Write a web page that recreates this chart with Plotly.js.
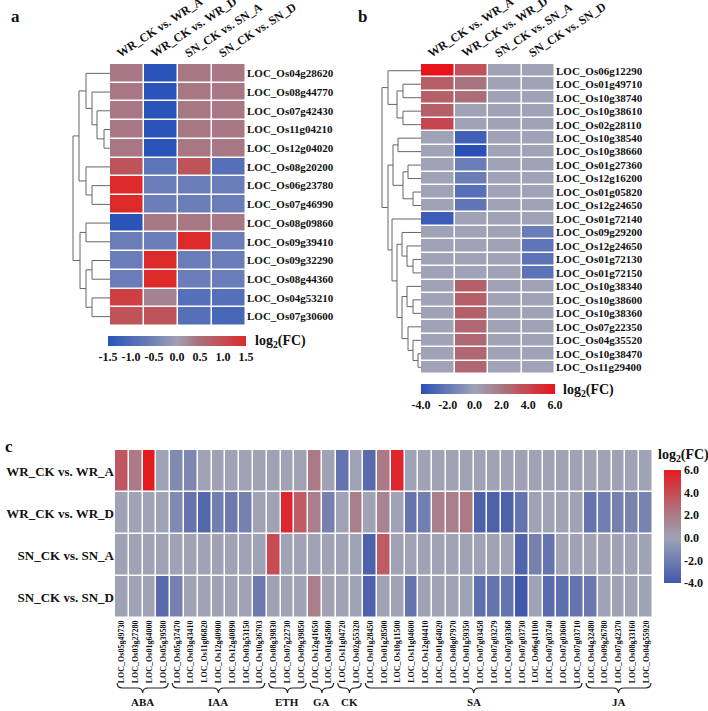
<!DOCTYPE html>
<html>
<head>
<meta charset="utf-8">
<script src="https://cdn.plot.ly/plotly-3.0.1.min.js"></script>
<style>
  html, body { margin: 0; padding: 0; background: #fff; }
  #chart { width: 708px; height: 711px; }
</style>
</head>
<body>
<div id="chart"></div>
<script>
// comparisons (shared by all panels)
const comparisons = ['WR_CK vs. WR_A', 'WR_CK vs. WR_D', 'SN_CK vs. SN_A', 'SN_CK vs. SN_D'];

// Panel a
const aGenes = ['LOC_Os04g28620', 'LOC_Os08g44770', 'LOC_Os07g42430', 'LOC_Os11g04210', 'LOC_Os12g04020',
  'LOC_Os08g20200', 'LOC_Os06g23780', 'LOC_Os07g46990', 'LOC_Os08g09860', 'LOC_Os09g39410',
  'LOC_Os09g32290', 'LOC_Os08g44360', 'LOC_Os04g53210', 'LOC_Os07g30600'];
const aValues = [
  [0.4, -1.5, 0.4, 0.4],
  [0.4, -1.5, 0.4, 0.4],
  [0.4, -1.5, 0.4, 0.4],
  [0.4, -1.5, 0.4, 0.4],
  [0.4, -1.5, 0.4, 0.4],
  [0.9, -0.8, 0.9, -0.9],
  [1.5, -0.6, -0.6, -0.6],
  [1.5, -0.6, -0.6, -0.6],
  [-1.5, 0.4, 0.4, 0.4],
  [-0.6, -0.6, 1.5, -0.6],
  [-0.6, 1.5, -0.6, -0.6],
  [-0.6, 1.5, -0.6, -0.6],
  [1.2, 0.3, -0.9, -0.9],
  [0.9, 0.9, -0.9, -1.1]
];
// tree: [left, right, merge height]; leaves are row indices
const aTree = [[[0, [1, [2, [3, 4, 6], 13], 18], 24], [5, [6, 7, 18], 24], 31],
               [[8, 9, 24], [[10, 11, 18], [12, 13, 18], 24], 30], 37];
const aTicks = [-1.5, -1.0, -0.5, 0.0, 0.5, 1.0, 1.5];

// Panel b
const bGenes = ['LOC_Os06g12290', 'LOC_Os01g49710', 'LOC_Os10g38740', 'LOC_Os10g38610', 'LOC_Os02g28110',
  'LOC_Os10g38540', 'LOC_Os10g38660', 'LOC_Os01g27360', 'LOC_Os12g16200', 'LOC_Os01g05820',
  'LOC_Os12g24650', 'LOC_Os01g72140', 'LOC_Os09g29200', 'LOC_Os12g24650', 'LOC_Os01g72130',
  'LOC_Os01g72150', 'LOC_Os10g38340', 'LOC_Os10g38600', 'LOC_Os10g38360', 'LOC_Os07g22350',
  'LOC_Os04g35520', 'LOC_Os10g38470', 'LOC_Os11g29400'];
const bValues = [
  [6.0, 3.6, 0, 0],
  [3.0, 2.2, 0, 0],
  [3.0, 2.4, 0, 0],
  [3.0, 0, 0, 0],
  [4.0, 0, 0, 0],
  [0, -3.2, 0, 0],
  [0, -4.0, 0, 0],
  [0, -1.8, 0, 0],
  [0, -1.8, 0, 0],
  [0, -2.5, 0, 0],
  [0, -2.2, 0, 0],
  [-3.4, 0, 0, 0],
  [0, 0, 0, -1.8],
  [0, 0, 0, -2.2],
  [0, 0, 0, -2.3],
  [0, 0, 0, -2.3],
  [0, 3.0, 0, 0],
  [0, 3.0, 0, 0],
  [0, 3.0, 0, 0],
  [0, 2.7, 0, 0],
  [0, 2.7, 0, 0],
  [0, 2.7, 0, 0],
  [0, 2.7, 0, 0]
];
const bTree = [
  [0, [[1, 2, 18], [3, 4, 18], 24], 33],
  [[[5, 6, 23], [[7, 8, 13], [9, 10, 8], 18], 28],
   [11, [[12, [13, [14, 15, 8], 14], 19], [[16, [17, 18, 8], 14], [19, [20, [21, 22, 3], 8], 13], 19], 24], 29], 33],
  39];
const bTicks = [-4, -2, 0, 2, 4, 6];

// Panel c
const cGenes = ['LOC_Os05g49730', 'LOC_Os03g27280', 'LOC_Os01g64000', 'LOC_Os05g39580',
  'LOC_Os05g37470', 'LOC_Os03g43410', 'LOC_Os11g06820', 'LOC_Os12g40900', 'LOC_Os12g40890', 'LOC_Os03g53150', 'LOC_Os10g36703',
  'LOC_Os08g39830', 'LOC_Os07g22730', 'LOC_Os09g39850',
  'LOC_Os12g41650', 'LOC_Os01g45860',
  'LOC_Os11g04720', 'LOC_Os02g55320',
  'LOC_Os01g28450', 'LOC_Os01g28500', 'LOC_Os10g11500', 'LOC_Os11g04600', 'LOC_Os12g04410', 'LOC_Os01g64020',
  'LOC_Os08g07970', 'LOC_Os01g59350', 'LOC_Os07g03458', 'LOC_Os07g03279', 'LOC_Os07g03368', 'LOC_Os07g03730',
  'LOC_Os06g41100', 'LOC_Os07g03740', 'LOC_Os07g03600', 'LOC_Os07g03710',
  'LOC_Os04g32480', 'LOC_Os09g26780', 'LOC_Os07g42370', 'LOC_Os08g33160', 'LOC_Os04g55920'];
const cGroups = ['ABA', 'IAA', 'ETH', 'GA', 'CK', 'SA', 'JA'];
const cGroupSizes = [4, 7, 3, 2, 2, 16, 5];
// one row per comparison, one value per gene
const cWRA = [3.5, 2.0, 6.0, 0, -1.3, -1.5, 0, 0, 0, 0, 0, 0, 0, 0, 2.0, 0, -2.5, 0, -3.0, 2.0,
  5.5, 0, 0, 0, 0, 0, 0, 0, 0, 0, 0, 0, 0, 0, 0, 0, 0, 0, 0];
const cWRD = [0, 0, 0, 0, -1.3, -2.5, -3.2, -2.0, -2.2, -1.8, 0, 0, 5.5, 3.3, 1.8, -1.8, 0, 1.8, 0, 1.5,
  0, -2.5, -2.0, 1.8, 1.8, 2.0, -3.5, -3.5, -3.5, -2.5, 0, 0, 0, 0, -2.5, -2.0, -1.8, -1.7, -1.7];
const cSNA = [0, 0, 0, 0, 0, 0, 0, 0, 0, 0, 0, 4.0, 0, 0, 0, 0, 0, 0, -3.5, 3.3,
  0, 0, 0, 0, 0, 0, 0, 0, 0, -3.3, -1.8, -2.5, 0, 0, 0, 0, 0, 0, 0];
const cSND = [0, 0, 0, -3.0, -1.8, 0, 0, 0, 0, 0, -2.2, 0, 0, 0, 1.8, 0, 0, 0, -3.5, 0,
  0, -2.5, 0, 0, 0, 0, -2.8, -2.5, -2.5, -4.0, 0, -3.0, -2.8, -2.5, -2.3, 0, 0, 0, 0];
const cTicks = [-4, -2, 0, 2, 4, 6];

const W = 708, H = 711;
const serif = 'Liberation Serif, Times New Roman, serif';
const px = v => v / W;
const py = v => 1 - v / H;
const idx = n => Array.from({length: n}, (_, i) => i);
const fmt = v => v.toFixed(1);

function dendro(tree, xa, ya) {
  const xs = [], ys = [];
  function walk(n) {
    if (typeof n === 'number') return {y: n, h: 0};
    const l = walk(n[0]), r = walk(n[1]), h = n[2];
    xs.push(l.h, h, h, r.h, null);
    ys.push(l.y, l.y, r.y, r.y, null);
    return {y: (l.y + r.y) / 2, h: h};
  }
  walk(tree);
  return {type: 'scatter', mode: 'lines', x: xs, y: ys, xaxis: xa, yaxis: ya,
    line: {color: '#666', width: 1}, hoverinfo: 'skip', showlegend: false};
}

const hidden = {showgrid: false, zeroline: false, showticklabels: false, ticks: '', showline: false};
const tickFont = (s) => ({family: serif, size: s, color: '#111', weight: 'bold'});

const data = [
  {
    type: 'heatmap', z: aValues, x: idx(4), y: idx(aGenes.length), xaxis: 'x', yaxis: 'y',
    zmin: -1.5, zmax: 1.5, xgap: 1.5, ygap: 1.5,
    colorscale: [[0, '#2b54b8'], [0.3, '#6a7db8'], [0.5, '#a0a0b4'], [0.65, '#a8737e'], [1, '#dc2a2a']],
    colorbar: {orientation: 'h', x: px(177), xanchor: 'center', y: py(336), yanchor: 'top',
      len: px(138), thickness: 10, xpad: 0, ypad: 0, outlinewidth: 0, ticks: '',
      tickvals: aTicks, ticktext: aTicks.map(fmt), tickfont: tickFont(12)}
  },
  dendro(aTree, 'x2', 'y'),
  {
    type: 'heatmap', z: bValues, x: idx(4), y: idx(bGenes.length), xaxis: 'x3', yaxis: 'y3',
    zmin: -4, zmax: 6, xgap: 1.5, ygap: 1.5,
    colorscale: [[0, '#2a50b8'], [0.4, '#a0a2b6'], [0.62, '#a8737e'], [1, '#e8141a']],
    colorbar: {orientation: 'h', x: px(488), xanchor: 'center', y: py(384), yanchor: 'top',
      len: px(134), thickness: 10, xpad: 0, ypad: 0, outlinewidth: 0, ticks: '',
      tickvals: bTicks, ticktext: bTicks.map(fmt), tickfont: tickFont(12)}
  },
  dendro(bTree, 'x4', 'y3'),
  {
    type: 'heatmap', z: [cWRA, cWRD, cSNA, cSND], x: idx(cGenes.length), y: idx(4), xaxis: 'x5', yaxis: 'y5',
    zmin: -4, zmax: 6, xgap: 1.5, ygap: 1.5,
    colorscale: [[0, '#4258aa'], [0.4, '#a0a3b5'], [0.6, '#ab7a86'], [1, '#e41b1f']],
    colorbar: {x: px(664), xanchor: 'left', y: py(470), yanchor: 'top',
      len: 113 / H, thickness: 17, xpad: 0, ypad: 0, outlinewidth: 0, ticks: '',
      tickvals: cTicks, ticktext: cTicks.map(fmt), tickfont: tickFont(12)}
  }
];

// brace shapes and group labels for panel c
const shapes = [];
const annotations = [];
let start = 0;
cGroups.forEach((g, i) => {
  const s = start, e = start + cGroupSizes[i] - 1;
  start += cGroupSizes[i];
  const x0 = s - 0.35, x1 = e + 0.35, mid = (s + e) / 2, k = Math.min(0.4, (x1 - x0) / 4);
  const y0 = py(683), y1 = py(688), y2 = py(693);
  shapes.push({type: 'path', xref: 'x5', yref: 'paper', line: {color: '#222', width: 1.2},
    path: `M ${x0},${y0} Q ${x0},${y1} ${x0 + k},${y1} L ${mid - k},${y1} Q ${mid},${y1} ${mid},${y2} ` +
          `Q ${mid},${y1} ${mid + k},${y1} L ${x1 - k},${y1} Q ${x1},${y1} ${x1},${y0}`});
  annotations.push({xref: 'x5', yref: 'paper', x: mid, y: py(702), text: g, showarrow: false,
    font: tickFont(11), xanchor: 'center', yanchor: 'middle'});
});

// rotated column headers for panels a and b
comparisons.forEach((c, i) => {
  annotations.push({xref: 'x', yref: 'paper', x: i - 0.45, y: py(63), text: c, showarrow: false,
    textangle: -33, xanchor: 'left', yanchor: 'bottom', font: tickFont(12)});
  annotations.push({xref: 'x3', yref: 'paper', x: i - 0.45, y: py(63), text: c, showarrow: false,
    textangle: -33, xanchor: 'left', yanchor: 'bottom', font: tickFont(12)});
});

// panel letters and colorbar titles
[['a', 15, 17], ['b', 362, 17], ['c', 9, 446]].forEach(([t, x, y]) => {
  annotations.push({xref: 'paper', yref: 'paper', x: px(x), y: py(y), text: t, showarrow: false,
    xanchor: 'center', yanchor: 'middle', font: {family: serif, size: 17, weight: 'bold', color: '#111'}});
});
[[253, 341, 'left'], [561, 390, 'left'], [683, 455, 'center']].forEach(([x, y, anc]) => {
  annotations.push({xref: 'paper', yref: 'paper', x: px(x), y: py(y), text: 'log<sub>2</sub>(FC)', showarrow: false,
    xanchor: anc, yanchor: 'middle', font: tickFont(14)});
});

const layout = {
  width: W, height: H,
  margin: {l: 0, r: 0, t: 0, b: 0},
  paper_bgcolor: '#fff', plot_bgcolor: '#fff',
  showlegend: false,
  xaxis: Object.assign({}, hidden, {domain: [px(110), px(246)], range: [-0.5, 3.5], anchor: 'y'}),
  yaxis: Object.assign({}, hidden, {domain: [py(326), py(64)], range: [aGenes.length - 0.5, -0.5], anchor: 'x',
    side: 'right', showticklabels: true, tickvals: idx(aGenes.length), ticktext: aGenes, tickfont: tickFont(11)}),
  xaxis2: Object.assign({}, hidden, {domain: [px(70), px(110)], range: [40, 0], anchor: 'y'}),
  xaxis3: Object.assign({}, hidden, {domain: [px(421), px(555)], range: [-0.5, 3.5], anchor: 'y3'}),
  yaxis3: Object.assign({}, hidden, {domain: [py(374), py(64)], range: [bGenes.length - 0.5, -0.5], anchor: 'x3',
    side: 'right', showticklabels: true, tickvals: idx(bGenes.length), ticktext: bGenes, tickfont: tickFont(11)}),
  xaxis4: Object.assign({}, hidden, {domain: [px(379), px(421)], range: [42, 0], anchor: 'y3'}),
  xaxis5: Object.assign({}, hidden, {domain: [px(115), px(653)], range: [-0.5, cGenes.length - 0.5], anchor: 'y5',
    side: 'bottom', showticklabels: true, tickvals: idx(cGenes.length), ticktext: cGenes, tickangle: -90,
    tickfont: tickFont(8)}),
  yaxis5: Object.assign({}, hidden, {domain: [py(618), py(450)], range: [3.5, -0.5], anchor: 'x5',
    side: 'left', showticklabels: true, tickvals: idx(4), ticktext: comparisons, tickfont: tickFont(13)}),
  shapes: shapes,
  annotations: annotations
};

Plotly.newPlot('chart', data, layout, {displayModeBar: false, staticPlot: true});
</script>
</body>
</html>
